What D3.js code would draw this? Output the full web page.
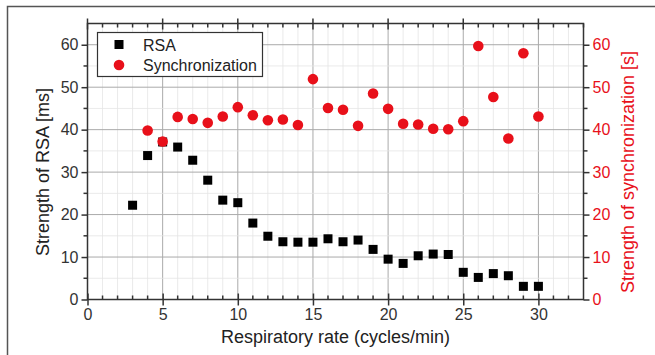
<!DOCTYPE html>
<html lang="en">
<head>
<meta charset="UTF-8">
<title>RSA vs synchronization</title>
<script src="https://d3js.org/d3.v7.min.js"></script>
<style>
  body { margin: 0; background: #fff; }
  text { font-family: "Liberation Sans", Arial, sans-serif; }
</style>
</head>
<body>
<div id="chart"></div>
<script>
  // PODACI //
  var rate = [3, 4, 5, 6, 7, 8, 9, 10, 11, 12, 13, 14, 15, 16, 17, 18, 19, 20, 21, 22, 23, 24, 25, 26, 27, 28, 29, 30];
  var rsa  = [22.2, 33.9, 37.1, 35.9, 32.8, 28.1, 23.4, 22.8, 18.0, 14.9, 13.6, 13.5, 13.5, 14.3,
              13.6, 14.0, 11.8, 9.5, 8.5, 10.3, 10.7, 10.6, 6.4, 5.2, 6.1, 5.6, 3.1, 3.1];
  var syncRate = [4, 5, 6, 7, 8, 9, 10, 11, 12, 13, 14, 15, 16, 17, 18, 19, 20, 21, 22, 23, 24, 25, 26, 27, 28, 29, 30];
  var sync = [39.8, 37.2, 43.0, 42.5, 41.6, 43.1, 45.3, 43.4, 42.2, 42.4, 41.1, 51.9, 45.1,
              44.7, 40.9, 48.5, 44.9, 41.4, 41.2, 40.2, 40.1, 42.0, 59.7, 47.7, 37.9, 58.0, 43.1];
  var xTicks = [0, 5, 10, 15, 20, 25, 30];
  var yTicks = [0, 10, 20, 30, 40, 50, 60];

  var red = "#e8101a", axisCol = "#333";

  // DIMENZIJE //
  var W = 655, H = 355;
  var m = {left: 87.5, top: 23.5, right: 655 - 583.5, bottom: 355 - 299.5};
  var w = W - m.left - m.right, h = H - m.top - m.bottom;

  var svg = d3.select("#chart").append("svg")
      .attr("width", W).attr("height", H);

  // okvir slike
  svg.append("path")
    .attr("d", "M7.5,355 V6.5 H655")
    .attr("fill", "none").attr("stroke", "#555").attr("stroke-width", 1.5);

  var g = svg.append("g").attr("transform", "translate(" + m.left + "," + m.top + ")");

  var x = d3.scaleLinear().domain([0, 33]).range([0, w]);
  var y = d3.scaleLinear().domain([0, 65]).range([h, 0]);
  var y2 = d3.scaleLinear().domain([0, 65]).range([h, 0]);

  // MREZA //
  g.append("g").selectAll("line").data(d3.range(1, 33)).join("line")
    .attr("x1", d => x(d)).attr("x2", d => x(d)).attr("y1", 0).attr("y2", h)
    .attr("stroke", d => d % 5 === 0 ? "#aaa" : "#e4e4e4")
    .attr("stroke-width", d => d % 5 === 0 ? 1 : 0.8);
  g.append("g").selectAll("line").data(d3.range(5, 65, 5)).join("line")
    .attr("y1", d => y(d)).attr("y2", d => y(d)).attr("x1", 0).attr("x2", w)
    .attr("stroke", d => d % 10 === 0 ? "#aaa" : "#e4e4e4")
    .attr("stroke-width", d => d % 10 === 0 ? 1 : 0.8);

  // OSI //
  function styleAxis(sel, col) {
    sel.select(".domain").remove();
    sel.selectAll("line").attr("stroke", axisCol).attr("stroke-width", 1.5);
    sel.selectAll("text").attr("fill", col).attr("font-size", 16);
  }
  // donja os: glavne crtice prema van, sporedne prema unutra
  var xb = g.append("g").attr("transform", "translate(0," + h + ")")
    .call(d3.axisBottom(x).tickValues(xTicks).tickSize(6).tickPadding(3));
  styleAxis(xb, axisCol);
  xb.selectAll(".tick line").attr("y1", -6);
  g.append("g").selectAll("line").data(d3.range(1, 33).filter(d => d % 5)).join("line")
    .attr("x1", d => x(d)).attr("x2", d => x(d)).attr("y1", h).attr("y2", h - 4)
    .attr("stroke", axisCol).attr("stroke-width", 1.5);
  // gornja os
  g.append("g").selectAll("line").data(d3.range(0, 34)).join("line")
    .attr("x1", d => x(d)).attr("x2", d => x(d))
    .attr("y1", d => d % 5 ? 0 : -5).attr("y2", d => d % 5 ? 4 : 6)
    .attr("stroke", axisCol).attr("stroke-width", 1.5);

  var yl = g.append("g")
    .call(d3.axisLeft(y).tickValues(yTicks).tickSize(6).tickPadding(3));
  styleAxis(yl, axisCol);
  g.append("g").selectAll("line").data(d3.range(5, 65, 10)).join("line")
    .attr("y1", d => y(d)).attr("y2", d => y(d)).attr("x1", 0).attr("x2", -4)
    .attr("stroke", axisCol).attr("stroke-width", 1.5);

  var yr = g.append("g").attr("transform", "translate(" + w + ",0)")
    .call(d3.axisRight(y2).tickValues(yTicks).tickSize(6).tickPadding(3));
  styleAxis(yr, red);
  g.append("g").selectAll("line").data(d3.range(5, 65, 10)).join("line")
    .attr("y1", d => y2(d)).attr("y2", d => y2(d)).attr("x1", w).attr("x2", w + 4)
    .attr("stroke", axisCol).attr("stroke-width", 1.5);

  // okvir grafa
  g.append("rect").attr("width", w).attr("height", h)
    .attr("fill", "none").attr("stroke", axisCol).attr("stroke-width", 1.5);

  // NASLOVI OSI //
  svg.append("text").attr("x", m.left + w / 2).attr("y", 343)
    .attr("text-anchor", "middle").attr("font-size", 18).attr("fill", "#222")
    .text("Respiratory rate (cycles/min)");
  svg.append("text").attr("transform", "translate(49,172) rotate(-90)")
    .attr("text-anchor", "middle").attr("font-size", 18).attr("fill", "#222")
    .text("Strength of RSA [ms]");
  svg.append("text").attr("transform", "translate(634,172) rotate(-90)")
    .attr("text-anchor", "middle").attr("font-size", 18).attr("fill", red)
    .text("Strength of synchronization [s]");

  // TOCKE //
  var s = 9;
  g.append("g").selectAll("rect").data(rate).join("rect")
    .attr("x", (d) => x(d) - s / 2)
    .attr("y", (d, i) => y(rsa[i]) - s / 2)
    .attr("width", s).attr("height", s).attr("fill", "#000");
  g.append("g").selectAll("circle").data(syncRate).join("circle")
    .attr("cx", d => x(d))
    .attr("cy", (d, i) => y2(sync[i]))
    .attr("r", 5.3).attr("fill", red);

  // LEGENDA //
  var lg = svg.append("g");
  lg.append("rect").attr("x", 97.5).attr("y", 32.5).attr("width", 165).attr("height", 44)
    .attr("fill", "#fff").attr("stroke", axisCol).attr("stroke-width", 1.2);
  lg.append("rect").attr("x", 119 - 4.5).attr("y", 44.5 - 4.5).attr("width", 9).attr("height", 9).attr("fill", "#000");
  lg.append("circle").attr("cx", 119).attr("cy", 65).attr("r", 5.3).attr("fill", red);
  lg.append("text").attr("x", 143).attr("y", 50.5).attr("font-size", 16).attr("fill", "#222").text("RSA");
  lg.append("text").attr("x", 143).attr("y", 71).attr("font-size", 16).attr("fill", "#222").text("Synchronization");
</script>
</body>
</html>
